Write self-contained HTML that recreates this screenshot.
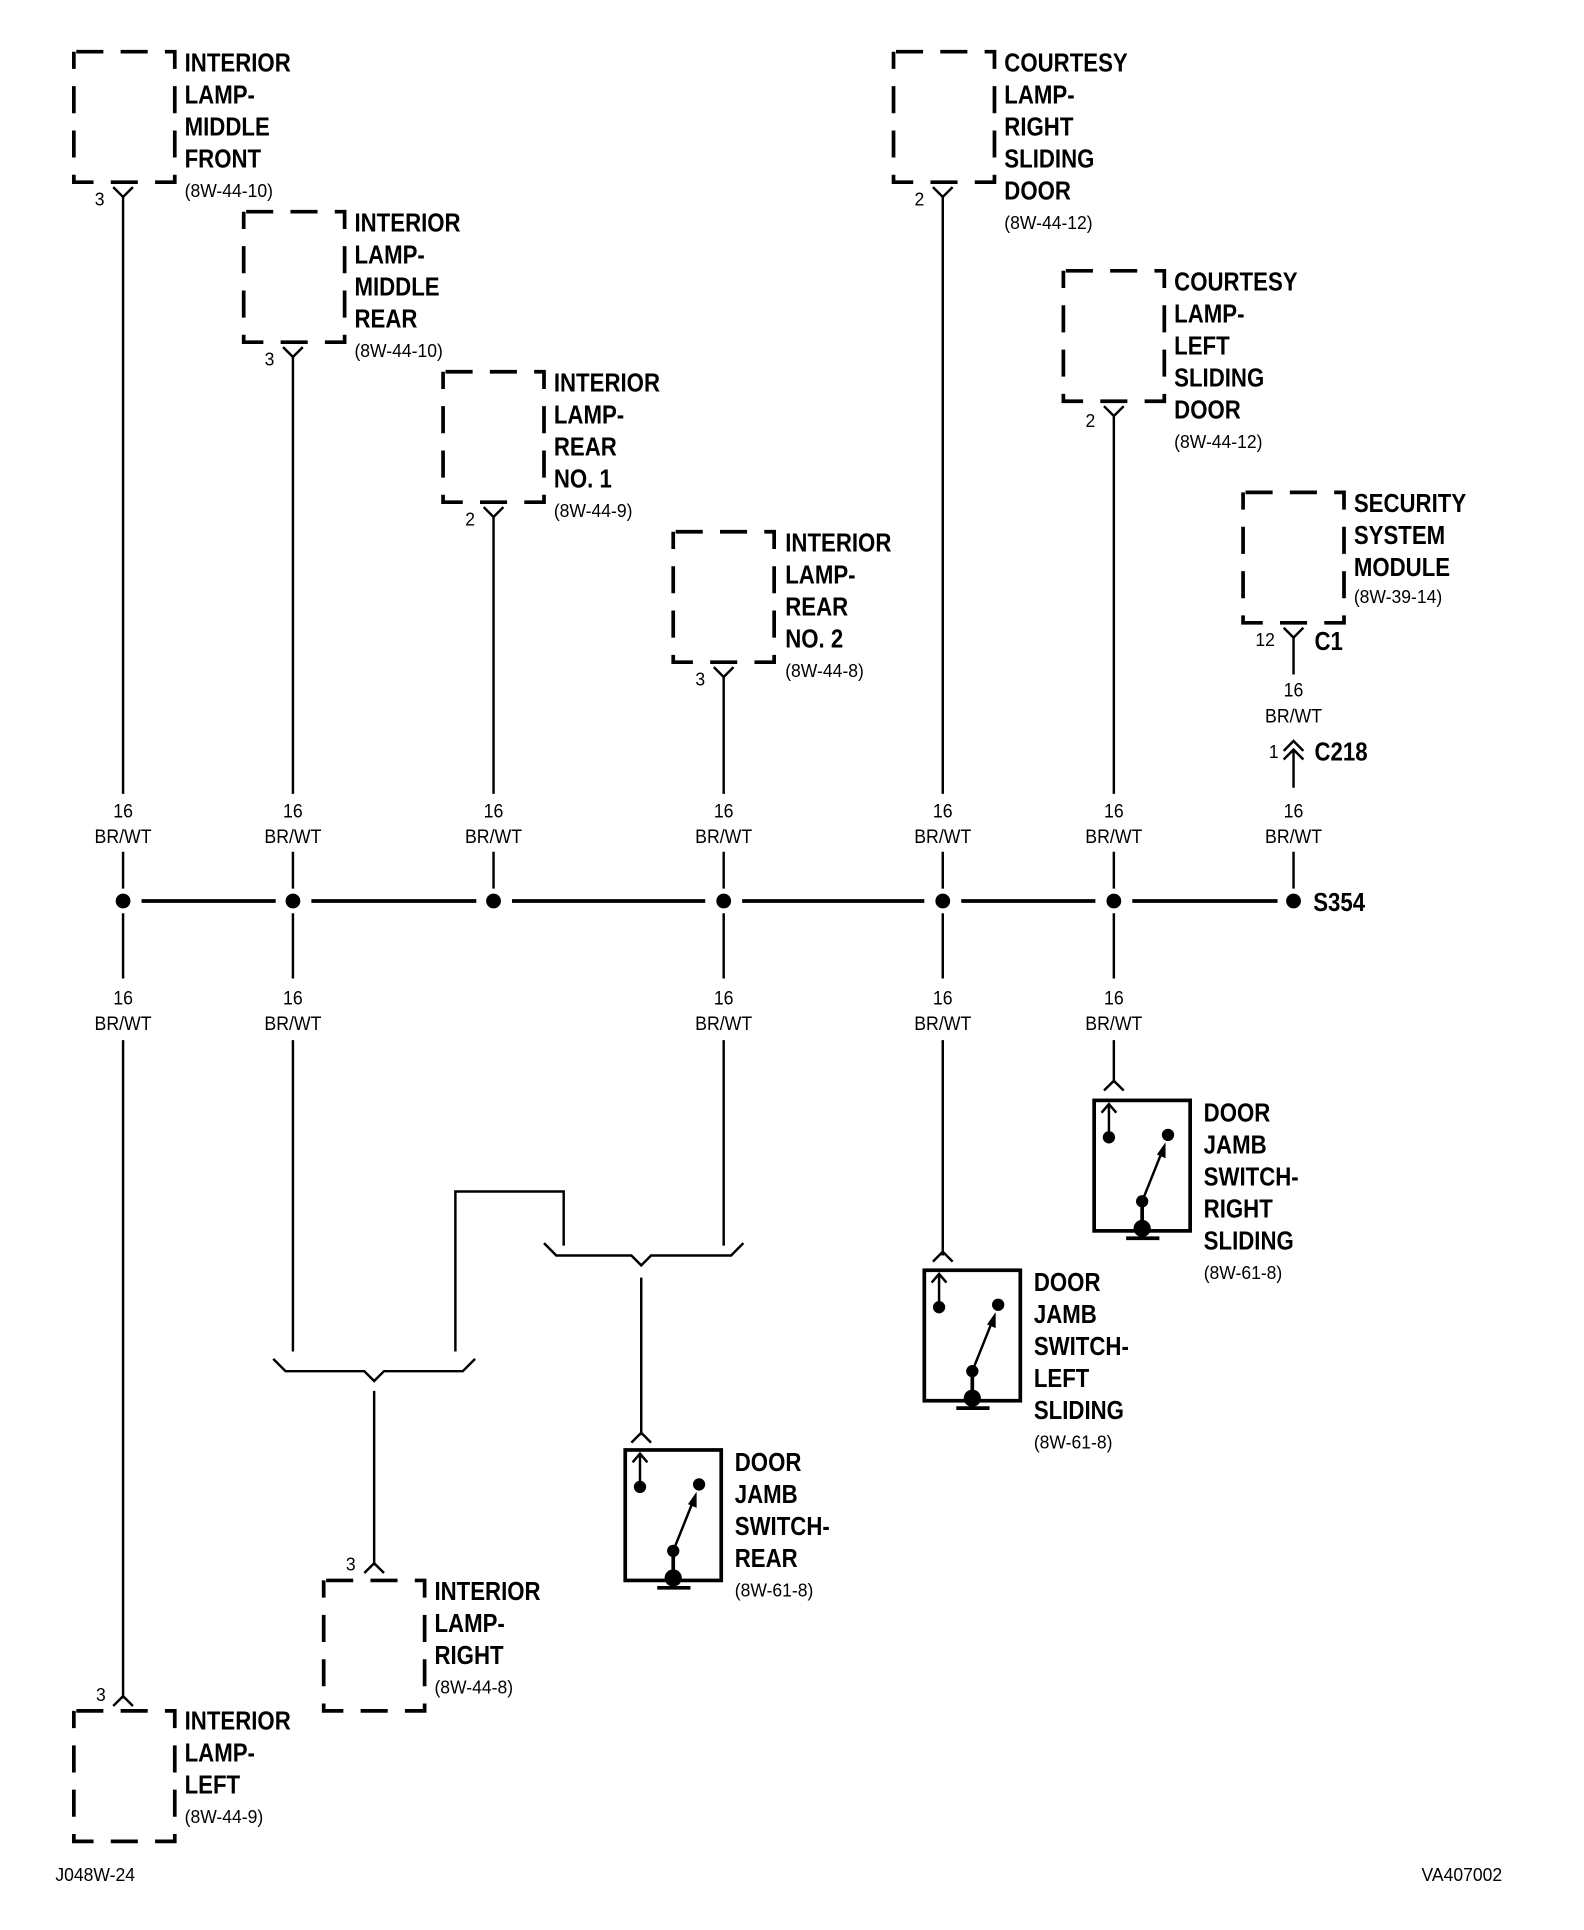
<!DOCTYPE html>
<html><head><meta charset="utf-8"><style>
html,body{margin:0;padding:0;background:#fff}
svg{display:block}
.t{font-family:"Liberation Sans Narrow","Liberation Sans",sans-serif;font-weight:bold;font-size:21px;fill:#000}
.t text{transform-box:fill-box;transform-origin:left center;transform:scaleX(0.86)}
.s{font-family:"Liberation Sans Narrow","Liberation Sans",sans-serif;font-size:15px;fill:#000}
.s text{transform-box:fill-box;transform-origin:left center;transform:scaleX(0.95)}
.w{font-family:"Liberation Sans Narrow","Liberation Sans",sans-serif;font-size:16px;fill:#000}
.w text{transform-box:fill-box;transform-origin:center center;transform:scaleX(0.9)}
</style></head><body>
<svg width="1584" height="1930" viewBox="0 0 1287 1568" preserveAspectRatio="none" xmlns="http://www.w3.org/2000/svg">
<g fill="none" stroke="#000" stroke-width="3">
<g stroke-dasharray="22,14" stroke-dashoffset="-2">
<rect x="60" y="42" width="82" height="106"/>
<rect x="198" y="172" width="82" height="106"/>
<rect x="360" y="302" width="82" height="106"/>
<rect x="547" y="432" width="82" height="106"/>
<rect x="726" y="42" width="82" height="106"/>
<rect x="864" y="220" width="82" height="106"/>
<rect x="1010" y="400" width="82" height="106"/>
<rect x="263" y="1284" width="82" height="106"/>
<rect x="60" y="1390" width="82" height="106"/>
</g>
</g>
<g fill="none" stroke="#000" stroke-width="2">
<path d="M92,152 L100,160 L108,152 M100,160 V645"/>
<path d="M230,282 L238,290 L246,282 M238,290 V645"/>
<path d="M393,412 L401,420 L409,412 M401,420 V645"/>
<path d="M580,542 L588,550 L596,542 M588,550 V645"/>
<path d="M758,152 L766,160 L774,152 M766,160 V645"/>
<path d="M897,330 L905,338 L913,330 M905,338 V645"/>
<path d="M1043,510 L1051,518 L1059,510 M1051,518 V548"/>
<path d="M1043,610 L1051,602 L1059,610 M1043,617 L1051,609 L1059,617 M1051,609 V640"/>
<path d="M100,692 V722 M238,692 V722 M401,692 V722 M588,692 V722 M766,692 V722 M905,692 V722 M1051,692 V722"/>
<path d="M100,742 V795 M238,742 V795 M588,742 V795 M766,742 V795 M905,742 V795"/>
<path d="M100,845 V1380 M92,1386 L100,1378 L108,1386"/>
<path d="M238,845 V1098"/>
<path d="M588,845 V1012"/>
<path d="M766,845 V1020 M758,1025 L766,1017 L774,1025"/>
<path d="M905,845 V880 M897,886 L905,878 L913,886"/>
<path d="M370,1098 V968 H458 V1012"/>
<path d="M222,1104 L232,1114 H296 L304,1122 L312,1114 H376 L386,1104"/>
<path d="M304,1130 V1272 M296,1278 L304,1270 L312,1278"/>
<path d="M442,1010 L452,1020 H513 L521,1028 L529,1020 H594 L604,1010"/>
<path d="M521,1038 V1166 M513,1172 L521,1164 L529,1172"/>
</g>
<g stroke="#000" stroke-width="3">
<path d="M115,732 H224 M253,732 H387 M416,732 H573 M603,732 H751 M781,732 H890 M920,732 H1038"/>
</g>
<g fill="#000">
<circle cx="100" cy="732" r="6"/><circle cx="238" cy="732" r="6"/><circle cx="401" cy="732" r="6"/>
<circle cx="588" cy="732" r="6"/><circle cx="766" cy="732" r="6"/><circle cx="905" cy="732" r="6"/>
<circle cx="1051" cy="732" r="6"/>
</g>
<defs>
<g id="sw">
<rect x="0" y="0" width="78" height="106" fill="none" stroke="#000" stroke-width="3"/>
<path d="M12,30 V3 M6,10 L12,3 L18,10" fill="none" stroke="#000" stroke-width="2"/>
<circle cx="12" cy="30" r="5" fill="#000"/>
<circle cx="60" cy="28" r="5" fill="#000"/>
<circle cx="39" cy="82" r="5" fill="#000"/>
<circle cx="39" cy="104" r="7" fill="#000"/>
<path d="M39,82 V104 M26,112 H53" stroke="#000" stroke-width="3" fill="none"/>
<path d="M39,82 L55,42" stroke="#000" stroke-width="2" fill="none"/>
<path d="M51,44 L58,34 L58,47 Z" fill="#000"/>
</g>
</defs>
<use href="#sw" x="508" y="1178"/>
<use href="#sw" x="751" y="1032"/>
<use href="#sw" x="889" y="894"/>
<g class="t">
<text x="150" y="58">INTERIOR</text><text x="150" y="84">LAMP-</text><text x="150" y="110">MIDDLE</text><text x="150" y="136">FRONT</text>
<text x="288" y="188">INTERIOR</text><text x="288" y="214">LAMP-</text><text x="288" y="240">MIDDLE</text><text x="288" y="266">REAR</text>
<text x="450" y="318">INTERIOR</text><text x="450" y="344">LAMP-</text><text x="450" y="370">REAR</text><text x="450" y="396">NO. 1</text>
<text x="638" y="448">INTERIOR</text><text x="638" y="474">LAMP-</text><text x="638" y="500">REAR</text><text x="638" y="526">NO. 2</text>
<text x="816" y="58">COURTESY</text><text x="816" y="84">LAMP-</text><text x="816" y="110">RIGHT</text><text x="816" y="136">SLIDING</text><text x="816" y="162">DOOR</text>
<text x="954" y="236">COURTESY</text><text x="954" y="262">LAMP-</text><text x="954" y="288">LEFT</text><text x="954" y="314">SLIDING</text><text x="954" y="340">DOOR</text>
<text x="1100" y="416">SECURITY</text><text x="1100" y="442">SYSTEM</text><text x="1100" y="468">MODULE</text>
<text x="1068" y="528">C1</text><text x="1068" y="618">C218</text><text x="1067" y="740">S354</text>
<text x="978" y="911">DOOR</text><text x="978" y="937">JAMB</text><text x="978" y="963">SWITCH-</text><text x="978" y="989">RIGHT</text><text x="978" y="1015">SLIDING</text>
<text x="840" y="1049">DOOR</text><text x="840" y="1075">JAMB</text><text x="840" y="1101">SWITCH-</text><text x="840" y="1127">LEFT</text><text x="840" y="1153">SLIDING</text>
<text x="597" y="1195">DOOR</text><text x="597" y="1221">JAMB</text><text x="597" y="1247">SWITCH-</text><text x="597" y="1273">REAR</text>
<text x="353" y="1300">INTERIOR</text><text x="353" y="1326">LAMP-</text><text x="353" y="1352">RIGHT</text>
<text x="150" y="1405">INTERIOR</text><text x="150" y="1431">LAMP-</text><text x="150" y="1457">LEFT</text>
</g>
<g class="s">
<text x="150" y="160">(8W-44-10)</text><text x="288" y="290">(8W-44-10)</text><text x="450" y="420">(8W-44-9)</text>
<text x="638" y="550">(8W-44-8)</text><text x="816" y="186">(8W-44-12)</text><text x="954" y="364">(8W-44-12)</text>
<text x="1100" y="490">(8W-39-14)</text><text x="978" y="1039">(8W-61-8)</text><text x="840" y="1177">(8W-61-8)</text>
<text x="597" y="1297">(8W-61-8)</text><text x="353" y="1376">(8W-44-8)</text><text x="150" y="1481">(8W-44-9)</text>
<text x="77" y="167">3</text><text x="215" y="297">3</text><text x="378" y="427">2</text><text x="565" y="557">3</text>
<text x="743" y="167">2</text><text x="882" y="347">2</text><text x="1020" y="525">12</text><text x="1031" y="616">1</text>
<text x="281" y="1276">3</text><text x="78" y="1382">3</text>
<text x="45" y="1528">J048W-24</text><text x="1155" y="1528">VA407002</text>
</g>
<g class="w" text-anchor="middle">
<text x="100" y="664">16</text><text x="100" y="685">BR/WT</text>
<text x="238" y="664">16</text><text x="238" y="685">BR/WT</text>
<text x="401" y="664">16</text><text x="401" y="685">BR/WT</text>
<text x="588" y="664">16</text><text x="588" y="685">BR/WT</text>
<text x="766" y="664">16</text><text x="766" y="685">BR/WT</text>
<text x="905" y="664">16</text><text x="905" y="685">BR/WT</text>
<text x="1051" y="664">16</text><text x="1051" y="685">BR/WT</text>
<text x="1051" y="566">16</text><text x="1051" y="587">BR/WT</text>
<text x="100" y="816">16</text><text x="100" y="837">BR/WT</text>
<text x="238" y="816">16</text><text x="238" y="837">BR/WT</text>
<text x="588" y="816">16</text><text x="588" y="837">BR/WT</text>
<text x="766" y="816">16</text><text x="766" y="837">BR/WT</text>
<text x="905" y="816">16</text><text x="905" y="837">BR/WT</text>
</g>
</svg>
</body></html>
